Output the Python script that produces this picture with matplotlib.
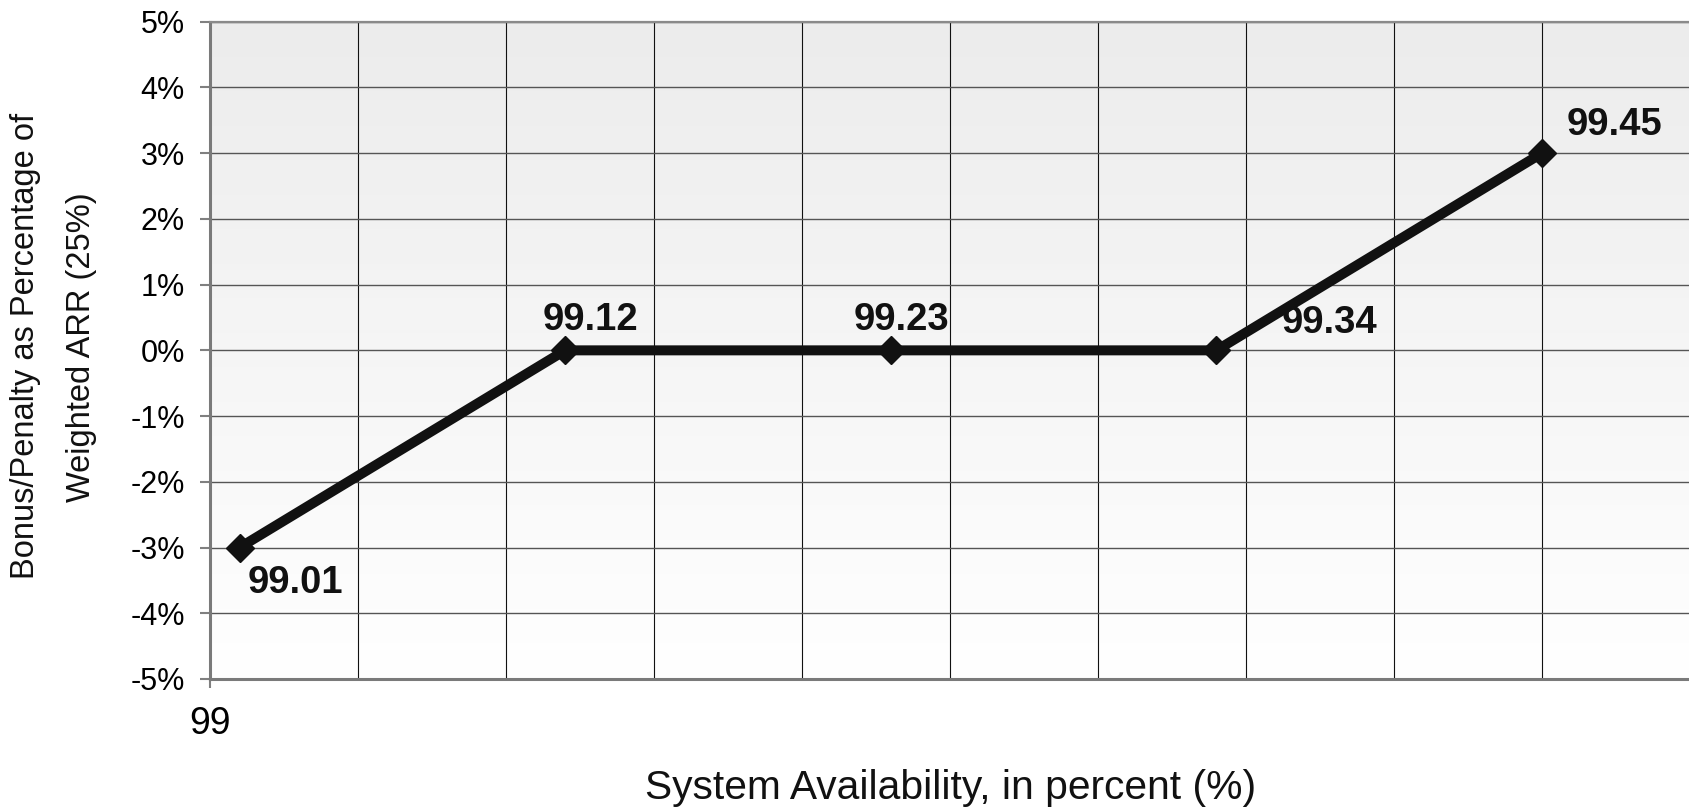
import matplotlib
matplotlib.use("Agg")
import matplotlib.pyplot as plt
from matplotlib.colors import LinearSegmentedColormap
import numpy as np

# availability thresholds and the bonus/penalty applied at each
availability = [99.01, 99.12, 99.23, 99.34, 99.45]
bonus_pct = [-3, 0, 0, 0, 3]
point_labels = ["99.01", "99.12", "99.23", "99.34", "99.45"]
# label offsets from each point, in pixels
label_offsets = [(56, -35), (25, 30), (11, 30), (113, 27), (73, 28)]

y_ticks = [-5, -4, -3, -2, -1, 0, 1, 2, 3, 4, 5]
grid_x = [99.05, 99.10, 99.15, 99.20, 99.25, 99.30, 99.35, 99.40, 99.45, 99.50]

plt.rcParams["font.family"] = ["Liberation Sans", "DejaVu Sans"]

fig = plt.figure(figsize=(16.9, 8.08), dpi=100)
ax = fig.add_axes([210 / 1690, 1 - 679 / 808, 1 - 210 / 1690, (679 - 21.7) / 808])

# soft grey-to-white plot background
bg = LinearSegmentedColormap.from_list("bg", ["#ffffff", "#ececec"])
ax.imshow(np.linspace(0, 1, 256).reshape(-1, 1), cmap=bg, origin="lower",
          extent=[0, 1, 0, 1], transform=ax.transAxes, aspect="auto", zorder=0)

ax.set_xlim(99, 99.5)
ax.set_ylim(-5, 5)

ax.set_yticks(y_ticks)
ax.set_yticklabels([f"{v}%" for v in y_ticks], fontsize=22)
ax.set_xticks([99])
ax.set_xticklabels(["99"], fontsize=27)
ax.set_xticks(grid_x, minor=True)

ax.tick_params(axis="y", length=7, width=1.5, color="#808080", pad=11)
ax.tick_params(axis="x", which="major", length=6.5, width=1.5, color="#808080", pad=13)
ax.tick_params(axis="x", which="minor", length=0)

ax.grid(axis="y", color="#555555", linewidth=1.0, zorder=1)
ax.grid(axis="x", which="minor", color="#111111", linewidth=0.8, zorder=1)
ax.set_axisbelow(True)

for side in ["left", "bottom"]:
    ax.spines[side].set_color("#7a7a7a")
    ax.spines[side].set_linewidth(2.2)
ax.spines["top"].set_color("#8a8a8a")
ax.spines["top"].set_linewidth(1.6)
ax.spines["right"].set_color("#dddddd")
ax.spines["right"].set_linewidth(1.0)

ax.plot(availability, bonus_pct, color="#111111", linewidth=7.2,
        marker="D", markersize=14, zorder=3, clip_on=False)

for x, y, txt, (dx, dy) in zip(availability, bonus_pct, point_labels, label_offsets):
    ax.annotate(txt, (x, y), xytext=(dx, dy), textcoords="offset pixels",
                ha="center", va="center", fontsize=27.5, fontweight="bold",
                color="#111111", zorder=4)

fig.text(951 / 1690, 1 - 799 / 808, "System Availability, in percent (%)",
         ha="center", va="baseline", fontsize=29.3, color="#111111")
fig.text(26 / 1690, 1 - 346 / 808, "Bonus/Penalty as Percentage of",
         rotation=90, ha="center", va="center", fontsize=23.5, color="#111111")
fig.text(82 / 1690, 1 - 347 / 808, "Weighted ARR (25%)",
         rotation=90, ha="center", va="center", fontsize=23.5, color="#111111")

fig.savefig("out.png", dpi=100)
